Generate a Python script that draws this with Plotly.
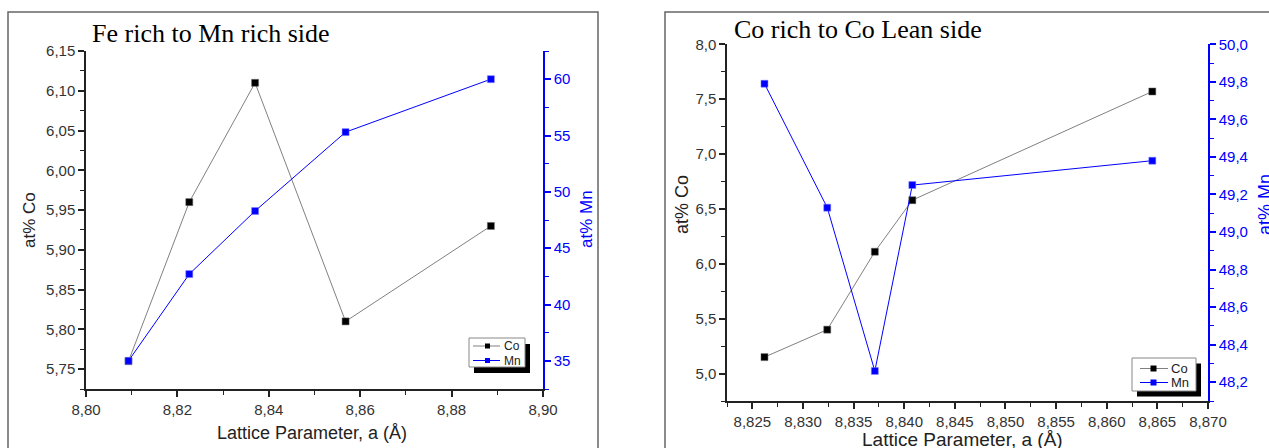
import plotly.graph_objects as go

W, H = 1269, 448

# ---------------- data ----------------
# Left panel: Fe rich to Mn rich side
left_a = [8.8093, 8.8226, 8.8370, 8.8568, 8.8886]
left_co = [5.76, 5.96, 6.11, 5.81, 5.93]
left_mn = [35.0, 42.7, 48.3, 55.3, 60.0]

# Right panel: Co rich to Co lean side
right_a = [8.8262, 8.8324, 8.8371, 8.8408, 8.8645]
right_co = [5.15, 5.40, 6.11, 6.58, 7.57]
right_mn = [49.79, 49.13, 48.26, 49.25, 49.38]

title_left = "Fe rich to Mn rich side"
title_right = "Co rich to Co Lean side"
xlabel = "Lattice Parameter, a (Å)"
ylabel_co = "at% Co"
ylabel_mn = "at% Mn"
series_names = ["Co", "Mn"]

CO_LINE = "#808080"
CO_MARK = "#000000"
MN = "#0000ff"
AX = "#222222"
TICKC = "#333333"


def px(x):
    return x / W


def py(y):
    return 1 - y / H


fig = go.Figure()

# traces - left
fig.add_trace(go.Scatter(x=left_a, y=left_co, mode="lines+markers", name="Co",
                         line=dict(color=CO_LINE, width=1),
                         marker=dict(symbol="square", size=7, color=CO_MARK,
                                     line=dict(color="#666666", width=0.5)),
                         xaxis="x", yaxis="y", showlegend=False))
fig.add_trace(go.Scatter(x=left_a, y=left_mn, mode="lines+markers", name="Mn",
                         line=dict(color=MN, width=1),
                         marker=dict(symbol="square", size=7, color=MN,
                                     line=dict(color="#8080ff", width=0.5)),
                         xaxis="x", yaxis="y2", showlegend=False))
# traces - right
fig.add_trace(go.Scatter(x=right_a, y=right_co, mode="lines+markers", name="Co",
                         line=dict(color=CO_LINE, width=1),
                         marker=dict(symbol="square", size=7, color=CO_MARK,
                                     line=dict(color="#666666", width=0.5)),
                         xaxis="x3", yaxis="y3", showlegend=False))
fig.add_trace(go.Scatter(x=right_a, y=right_mn, mode="lines+markers", name="Mn",
                         line=dict(color=MN, width=1),
                         marker=dict(symbol="square", size=7, color=MN,
                                     line=dict(color="#8080ff", width=0.5)),
                         xaxis="x3", yaxis="y4", showlegend=False))

tickfont = dict(family="Liberation Sans, Arial", size=15, color=TICKC)
tickfont_mn = dict(family="Liberation Sans, Arial", size=15, color=MN)

# left panel domains
LX = [px(86), px(543)]
LY = [py(389), py(51)]
# right panel domains
RX = [px(727), px(1208)]
RY = [py(401), py(44.3)]


def xaxis_bottom(domain, rng, dtick, tick0, mdtick, fmt, anchor):
    return dict(domain=domain, range=rng, dtick=dtick, tick0=tick0, tickformat=fmt,
                ticks="outside", ticklen=6, tickwidth=1.5, tickcolor=AX,
                showline=True, linecolor=AX, linewidth=1.5, showgrid=False,
                zeroline=False, tickfont=tickfont, anchor=anchor, automargin=False,
                minor=dict(dtick=mdtick, ticks="outside", ticklen=4, tickwidth=1.2,
                           tickcolor=AX, showgrid=False))


def xaxis_top(over, rng, dtick, tick0, mdtick, anchor):
    return dict(overlaying=over, side="top", range=rng, dtick=dtick, tick0=tick0,
                ticks="inside", ticklen=6, tickwidth=1.5, tickcolor=AX,
                showline=True, linecolor=AX, linewidth=1.5, showgrid=False,
                zeroline=False, showticklabels=False, anchor=anchor, automargin=False,
                minor=dict(dtick=mdtick, ticks="inside", ticklen=4, tickwidth=1.2,
                           tickcolor=AX, showgrid=False))


def yaxis_left(domain, rng, dtick, tick0, mdtick, fmt, anchor):
    return dict(domain=domain, range=rng, dtick=dtick, tick0=tick0, tickformat=fmt,
                ticks="outside", ticklen=6, tickwidth=1.5, tickcolor=AX,
                showline=True, linecolor=AX, linewidth=1.5, showgrid=False,
                zeroline=False, tickfont=tickfont, anchor=anchor, automargin=False,
                minor=dict(dtick=mdtick, ticks="outside", ticklen=4, tickwidth=1.2,
                           tickcolor=AX, showgrid=False))


def yaxis_right(over, rng, dtick, tick0, mdtick, fmt, anchor):
    return dict(overlaying=over, side="right", range=rng, dtick=dtick, tick0=tick0,
                tickformat=fmt, ticks="outside", ticklen=6, tickwidth=1.5, tickcolor=MN,
                showline=True, linecolor=MN, linewidth=1.5, showgrid=False,
                zeroline=False, tickfont=tickfont_mn, anchor=anchor, automargin=False,
                minor=dict(dtick=mdtick, ticks="outside", ticklen=4, tickwidth=1.2,
                           tickcolor=MN, showgrid=False))


fig.update_layout(
    template="none",
    width=W, height=H,
    margin=dict(l=0, r=0, t=0, b=0, pad=0),
    paper_bgcolor="white", plot_bgcolor="white",
    separators=", ",
    showlegend=False,
    xaxis=xaxis_bottom(LX, [8.80, 8.90], 0.02, 8.80, 0.01, ".2f", "y"),
    xaxis2=xaxis_top("x", [8.80, 8.90], 0.02, 8.80, 0.01, "y"),
    yaxis=yaxis_left(LY, [5.725, 6.15], 0.05, 5.75, 0.025, ".2f", "x"),
    yaxis2=yaxis_right("y", [32.5, 62.5], 5, 35, 2.5, "d", "x"),
    xaxis3=xaxis_bottom(RX, [8.8225, 8.870], 0.005, 8.825, 0.0025, ".3f", "y3"),
    xaxis4=xaxis_top("x3", [8.8225, 8.870], 0.005, 8.825, 0.0025, "y3"),
    yaxis3=yaxis_left(RY, [4.75, 8.0], 0.5, 5.0, 0.25, ".1f", "x3"),
    yaxis4=yaxis_right("y3", [48.1, 50.0], 0.2, 48.0, 0.1, ".1f", "x3"),
)

shapes = []
annotations = []

# outer frames
shapes.append(dict(type="rect", xref="paper", yref="paper",
                   x0=px(8), x1=px(598), y0=py(470), y1=py(12),
                   line=dict(color="#666666", width=1.5), layer="below"))
shapes.append(dict(type="rect", xref="paper", yref="paper",
                   x0=px(665), x1=px(1290), y0=py(470), y1=py(12),
                   line=dict(color="#666666", width=1.5), layer="below"))

serif = dict(family="Liberation Serif, Times New Roman", size=26, color="black")
sans = "Liberation Sans, Arial"

# panel titles
annotations.append(dict(text=title_left, xref="paper", yref="paper", x=px(90), y=py(34),
                        xanchor="left", yanchor="middle", showarrow=False, font=serif))
annotations.append(dict(text=title_right, xref="paper", yref="paper", x=px(732), y=py(30),
                        xanchor="left", yanchor="middle", showarrow=False, font=serif))

# axis titles left
annotations.append(dict(text=xlabel, xref="paper", yref="paper", x=px(312), y=py(433),
                        xanchor="center", yanchor="middle", showarrow=False,
                        font=dict(family=sans, size=18, color=AX)))
annotations.append(dict(text=ylabel_co, xref="paper", yref="paper", x=px(29), y=py(220),
                        xanchor="center", yanchor="middle", showarrow=False, textangle=-90,
                        font=dict(family=sans, size=17, color=AX)))
annotations.append(dict(text=ylabel_mn, xref="paper", yref="paper", x=px(586), y=py(219),
                        xanchor="center", yanchor="middle", showarrow=False, textangle=-90,
                        font=dict(family=sans, size=17, color=MN)))
# axis titles right
annotations.append(dict(text=xlabel, xref="paper", yref="paper", x=px(962), y=py(439),
                        xanchor="center", yanchor="middle", showarrow=False,
                        font=dict(family=sans, size=19, color=AX)))
annotations.append(dict(text=ylabel_co, xref="paper", yref="paper", x=px(682), y=py(205),
                        xanchor="center", yanchor="middle", showarrow=False, textangle=-90,
                        font=dict(family=sans, size=18, color=AX)))
annotations.append(dict(text=ylabel_mn, xref="paper", yref="paper", x=px(1265), y=py(205),
                        xanchor="center", yanchor="middle", showarrow=False, textangle=-90,
                        font=dict(family=sans, size=18, color=MN)))


def legend(x0, y0, x1, y1, sx, sy, rows, lx0, lx1, mx, tx, fsize, msz):
    # shadow
    shapes.append(dict(type="rect", xref="paper", yref="paper",
                       x0=px(x0 + sx), x1=px(x1 + sx), y0=py(y1 + sy), y1=py(y0 + sy),
                       fillcolor="black", line=dict(width=0)))
    # box
    shapes.append(dict(type="rect", xref="paper", yref="paper",
                       x0=px(x0), x1=px(x1), y0=py(y1), y1=py(y0),
                       fillcolor="white", line=dict(color="#888888", width=1)))
    cols = [(CO_LINE, CO_MARK), (MN, MN)]
    for (ry, name, (lc, mc)) in zip(rows, series_names, cols):
        shapes.append(dict(type="line", xref="paper", yref="paper",
                           x0=px(lx0), x1=px(lx1), y0=py(ry), y1=py(ry),
                           line=dict(color=lc, width=1)))
        shapes.append(dict(type="rect", xref="paper", yref="paper",
                           x0=px(mx - msz / 2), x1=px(mx + msz / 2),
                           y0=py(ry + msz / 2), y1=py(ry - msz / 2),
                           fillcolor=mc, line=dict(width=0)))
        annotations.append(dict(text=name, xref="paper", yref="paper", x=px(tx), y=py(ry),
                                xanchor="left", yanchor="middle", showarrow=False,
                                font=dict(family=sans, size=fsize, color=AX)))


legend(469, 338, 525, 367, 5, 6, [346, 360.5], 473, 500, 487.5, 502, 12, 5)
legend(1132, 358, 1196, 391, 5, 5.5, [368.5, 382.5], 1140, 1168, 1153.5, 1169, 13, 6)

fig.update_layout(shapes=shapes, annotations=annotations)

fig.write_html("out.html")
